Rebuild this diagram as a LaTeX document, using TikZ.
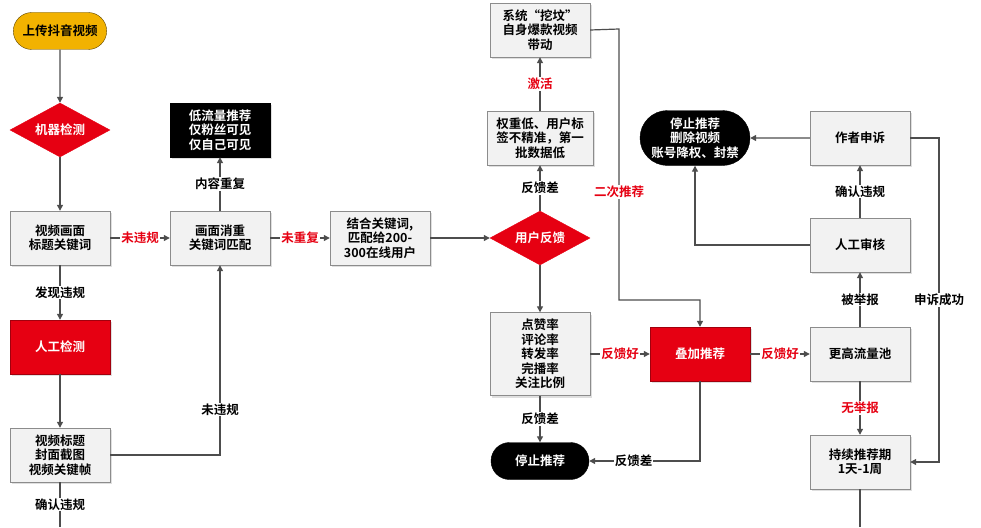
\documentclass[tikz,border=0pt]{standalone}
\usepackage{fontspec}
\setmainfont{Noto Sans CJK SC Bold}
\usetikzlibrary{shapes.geometric,shapes.misc,arrows.meta,shadows}
\definecolor{myred}{HTML}{E60012}
\definecolor{lgray}{HTML}{F2F2F2}
\definecolor{bgray}{HTML}{8C8C8C}
\definecolor{lgr}{HTML}{4D4D4D}
\definecolor{gold}{HTML}{F2B200}
\begin{document}
\begin{tikzpicture}[x=1pt,y=-1pt,
  font=\fontsize{12.5}{14.5}\selectfont,
  box/.style={draw=bgray,fill=lgray,minimum width=100pt,minimum height=54pt,align=center,inner sep=1pt,drop shadow={opacity=0.25,shadow xshift=2pt,shadow yshift=-2pt}},
  redbox/.style={box,fill=myred,draw=myred!70!black,text=white},
  blkbox/.style={box,fill=black,draw=black,text=white},
  pill/.style={rounded rectangle,draw=black,fill=black,text=white,minimum width=100pt,minimum height=37pt,align=center,inner sep=1pt},
  dia/.style={diamond,aspect=1.9,fill=myred,draw=myred,text=white,minimum width=100pt,minimum height=54pt,inner sep=0pt},
  arr/.style={-{Triangle[length=6pt,width=6pt]},draw=lgr,line width=1.2pt},
  ln/.style={draw=lgr,line width=1.2pt},
  lab/.style={fill=white,inner sep=1pt},
  rlab/.style={lab,text=myred}]
\useasboundingbox (0,0) rectangle (981,527);
\node[rounded rectangle,draw=black!60!gold,fill=gold,minimum width=100pt,minimum height=37pt] (start) at (60,31) {上传抖音视频};
\node[dia] (jq) at (60,130) {机器检测};
\node[box] (sp) at (60,238) {视频画面\\标题关键词};
\node[redbox] (rg) at (60,347) {人工检测};
\node[box] (bt) at (60,455) {视频标题\\封面截图\\视频关键帧};
\coordinate (bend) at (60,527);
\node[box] (xc) at (220,238) {画面消重\\关键词匹配};
\node[blkbox] (dl) at (220,130) {低流量推荐\\仅粉丝可见\\仅自己可见};
\node[box] (jh) at (380,238) {结合关键词,\\匹配给200-\\300在线用户};
\node[dia] (yh) at (540,238) {用户反馈};
\node[box,minimum width=106pt] (qz) at (540,138) {权重低、用户标\\签不精准，第一\\批数据低};
\node[box] (xt) at (540,30) {系统“挖坟”\\自身爆款视频\\带动};
\node[box,minimum height=83pt] (dz) at (540,354) {点赞率\\评论率\\转发率\\完播率\\关注比例};
\node[redbox] (dj) at (700,354) {叠加推荐};
\node[pill] (tz) at (540,461) {停止推荐};
\node[box] (gg) at (860,354) {更高流量池};
\node[box] (rs) at (860,245) {人工审核};
\node[box] (zz) at (860,138) {作者申诉};
\node[pill,minimum width=110pt,minimum height=55pt,inner sep=0pt] (sc) at (695,138) {停止推荐\\删除视频\\账号降权、封禁};
\node[box] (cx) at (860,462) {持续推荐期\\1天-1周};
\coordinate (cend) at (860,527);

\draw[arr] (start) -- (jq);
\draw[arr] (jq) -- (sp);
\draw[arr] (sp) -- node[lab]{发现违规} (rg);
\draw[arr] (rg) -- (bt);
\draw[ln] (bt) -- node[lab]{确认违规} (bend);
\draw[arr] (sp) -- node[rlab]{未违规} (xc);
\draw[arr] (xc) -- node[lab]{内容重复} (dl);
\draw[arr] (bt.east) -| node[lab,pos=0.62]{未违规} (xc.south);
\draw[arr] (xc) -- node[rlab]{未重复} (jh);
\draw[arr] (jh) -- (yh);
\draw[arr] (yh) -- node[lab]{反馈差} (qz);
\draw[arr] (qz) -- node[rlab]{激活} (xt);
\draw[arr] (yh) -- (dz);
\draw[arr] (xt.east) -- (619,29) -- node[rlab,pos=0.6]{二次推荐} (619,300) -- (700,300) -- (dj.north);
\draw[arr] (dz) -- node[rlab]{反馈好} (dj);
\draw[arr] (dz) -- node[lab]{反馈差} (tz);
\draw[arr] (dj.south) |- node[lab,pos=0.8]{反馈差} (tz.east);
\draw[arr] (dj) -- node[rlab]{反馈好} (gg);
\draw[arr] (gg) -- node[lab]{被举报} (rs);
\draw[arr] (rs) -- node[lab]{确认违规} (zz);
\draw[arr] (gg) -- node[rlab]{无举报} (cx);
\draw[arr] (zz) -- (sc);
\draw[arr] (rs.west) -| (sc.south);
\draw[arr] (zz.east) -- (939,138) -- node[lab]{申诉成功} (939,462) -- (cx.east);
\draw[ln] (cx) -- (cend);
\end{tikzpicture}
\end{document}
